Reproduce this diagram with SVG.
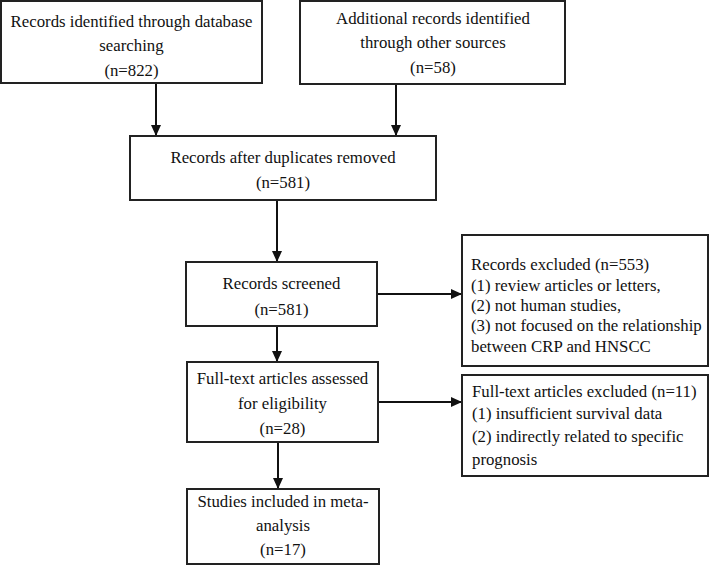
<svg xmlns="http://www.w3.org/2000/svg" width="709" height="566" viewBox="0 0 709 566">
<defs>
<marker id="ah" markerUnits="userSpaceOnUse" markerWidth="12" markerHeight="10" refX="11" refY="5" orient="auto">
<path d="M0,0 L11,5 L0,10 Z" fill="#111"/>
</marker>
<style>
.box{fill:#fff;stroke:#222;stroke-width:2}
.t{font-family:"Liberation Serif","Times New Roman",serif;font-size:16.8px;fill:#111}
.c{text-anchor:middle}
.e{stroke:#111;stroke-width:2;fill:none}
</style>
</defs>
<rect width="709" height="566" fill="#fff"/>
<g id="connectors">
<line class="e" x1="156" y1="83" x2="156" y2="136" marker-end="url(#ah)"/>
<line class="e" x1="396" y1="84" x2="396" y2="136" marker-end="url(#ah)"/>
<line class="e" x1="277" y1="200" x2="277" y2="262" marker-end="url(#ah)"/>
<line class="e" x1="377" y1="294" x2="462" y2="294" marker-end="url(#ah)"/>
<line class="e" x1="277" y1="326" x2="277" y2="362" marker-end="url(#ah)"/>
<line class="e" x1="378" y1="402" x2="462" y2="402" marker-end="url(#ah)"/>
<line class="e" x1="278" y1="442" x2="278" y2="489" marker-end="url(#ah)"/>
</g>
<g id="n1">
<rect class="box" x="1" y="1" width="261" height="82"/>
<text class="t c" x="131.5" y="27">Records identified through database</text>
<text class="t c" x="131.5" y="51">searching</text>
<text class="t c" x="131.5" y="76">(n=822)</text>
</g>
<g id="n2">
<rect class="box" x="300" y="1" width="265" height="83"/>
<text class="t c" x="433" y="24">Additional records identified</text>
<text class="t c" x="433" y="48">through other sources</text>
<text class="t c" x="433" y="73">(n=58)</text>
</g>
<g id="n3">
<rect class="box" x="130" y="136" width="306" height="64"/>
<text class="t c" x="283" y="163">Records after duplicates removed</text>
<text class="t c" x="283" y="188">(n=581)</text>
</g>
<g id="n4">
<rect class="box" x="186" y="262" width="191" height="64"/>
<text class="t c" x="281.5" y="289">Records screened</text>
<text class="t c" x="281.5" y="315">(n=581)</text>
</g>
<g id="n5">
<rect class="box" x="462" y="235" width="246" height="131"/>
<text class="t" x="471" y="270">Records excluded (n=553)</text>
<text class="t" x="471" y="290.5">(1) review articles or letters,</text>
<text class="t" x="471" y="311">(2) not human studies,</text>
<text class="t" x="471" y="331">(3) not focused on the relationship</text>
<text class="t" x="471" y="352">between CRP and HNSCC</text>
</g>
<g id="n6">
<rect class="box" x="187" y="362" width="191" height="80"/>
<text class="t c" x="282.5" y="384">Full-text articles assessed</text>
<text class="t c" x="282.5" y="409">for eligibility</text>
<text class="t c" x="282.5" y="434">(n=28)</text>
</g>
<g id="n7">
<rect class="box" x="462" y="375" width="246" height="101"/>
<text class="t" x="472" y="397">Full-text articles excluded (n=11)</text>
<text class="t" x="472" y="419">(1) insufficient survival data</text>
<text class="t" x="472" y="442">(2) indirectly related to specific</text>
<text class="t" x="472" y="465">prognosis</text>
</g>
<g id="n8">
<rect class="box" x="187" y="489" width="192" height="75"/>
<text class="t c" x="283" y="507">Studies included in meta-</text>
<text class="t c" x="283" y="531">analysis</text>
<text class="t c" x="283" y="555">(n=17)</text>
</g>
</svg>
